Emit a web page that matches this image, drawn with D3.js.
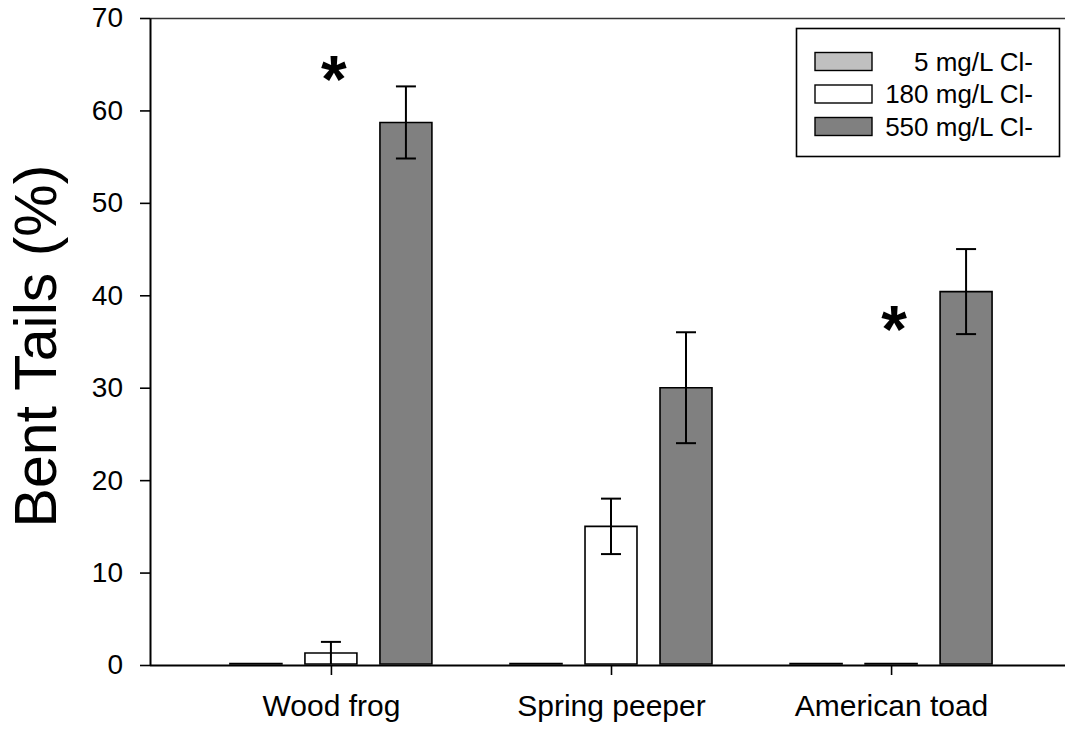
<!DOCTYPE html>
<html>
<head>
<meta charset="utf-8">
<script src="https://cdn.jsdelivr.net/npm/d3@7"></script>
<style>
  html, body { margin: 0; padding: 0; background: #fff; }
  svg { display: block; font-family: "Liberation Sans", Arial, Helvetica, sans-serif; }
</style>
</head>
<body>
<svg id="chart" width="1065" height="730"></svg>
<script>
// Species on the x axis
const species = ["Wood frog", "Spring peeper", "American toad"];
// Chloride treatments (legend order)
const treatments = ["5 mg/L Cl-", "180 mg/L Cl-", "550 mg/L Cl-"];
// Mean % bent tails per treatment, one value per species
const low = [0, 0, 0];
const mid = [1.3, 15, 0];
const high = [58.7, 30, 40.4];
// Standard errors
const lowErr = [0, 0, 0];
const midErr = [1.2, 3, 0];
const highErr = [3.9, 6, 4.6];
// Significance markers: species and height
const starSpecies = ["Wood frog", "American toad"];
const starHeight = [64.6, 37.5];
// Y-axis ticks
const yTicks = [0, 10, 20, 30, 40, 50, 60, 70];

const fills = ["#c0c0c0", "#ffffff", "#808080"];
const means = [low, mid, high];
const errs = [lowErr, midErr, highErr];

const svg = d3.select("#chart");

const plotLeft = 150, plotTop = 18, plotBottom = 665, plotRight = 1072;

const x = d3.scalePoint().domain(species).range([plotLeft, plotRight]).padding(0.646);
const xs = d3.scaleBand().domain(treatments).range([-112.5, 112.5])
  .paddingInner(0.307).paddingOuter(0.1535);
const y = d3.scaleLinear().domain([0, 70]).range([plotBottom, plotTop]);

const rows = [];
treatments.forEach((t, ti) => {
  species.forEach((s, si) => {
    rows.push({ t, ti, s, v: means[ti][si], e: errs[ti][si] });
  });
});

// Bars (drawn as paths so zero-height bars still show an outline)
svg.append("g").selectAll("path").data(rows).join("path")
  .attr("d", d => {
    const x0 = x(d.s) + xs(d.t), w = xs.bandwidth();
    const y0 = y(d.v), y1 = y(0) - 1;
    const yt = Math.min(y0, y1 - 0.5);
    const p = d3.path();
    p.moveTo(x0, y1); p.lineTo(x0, yt);
    p.lineTo(x0 + w, yt); p.lineTo(x0 + w, y1); p.closePath();
    return p.toString();
  })
  .attr("fill", d => fills[d.ti])
  .attr("stroke", "#000")
  .attr("stroke-width", 1.6);

// Error bars
const eb = svg.append("g").attr("stroke", "#000").attr("stroke-width", 2);
rows.filter(d => d.e > 0).forEach(d => {
  const cx = x(d.s) + xs(d.t) + xs.bandwidth() / 2;
  eb.append("line").attr("x1", cx).attr("x2", cx).attr("y1", y(d.v + d.e)).attr("y2", y(Math.max(0, d.v - d.e)));
  eb.append("line").attr("x1", cx - 10).attr("x2", cx + 10).attr("y1", y(d.v + d.e)).attr("y2", y(d.v + d.e));
  if (d.v - d.e > 0.3)
    eb.append("line").attr("x1", cx - 10).attr("x2", cx + 10).attr("y1", y(d.v - d.e)).attr("y2", y(d.v - d.e));
});

// Frame top line
svg.append("line").attr("x1", plotLeft).attr("x2", 1065).attr("y1", plotTop + 0.5).attr("y2", plotTop + 0.5)
  .attr("stroke", "#333").attr("stroke-width", 1.6);

// Y axis
const yAxis = svg.append("g").attr("transform", `translate(${plotLeft},0)`)
  .call(d3.axisLeft(y).tickValues(yTicks).tickSize(10).tickPadding(17).tickSizeOuter(0));
yAxis.select(".domain").attr("stroke-width", 2);
yAxis.selectAll(".tick line").attr("stroke-width", 1.6);
yAxis.selectAll("text").attr("font-size", 28).attr("fill", "#000")
  .attr("font-family", "'Liberation Sans', Arial, sans-serif");

// X axis
const xAxis = svg.append("g").attr("transform", `translate(0,${plotBottom})`)
  .call(d3.axisBottom(x).tickSize(10).tickPadding(20).tickSizeOuter(0));
xAxis.select(".domain").attr("d", `M${plotLeft},0.5H1065`).attr("stroke-width", 2);
xAxis.selectAll(".tick line").attr("stroke-width", 1.6);
xAxis.selectAll("text").attr("font-size", 30).attr("fill", "#000")
  .attr("font-family", "'Liberation Sans', Arial, sans-serif");

// Y axis title
svg.append("text")
  .attr("transform", `translate(56,346) rotate(-90)`)
  .attr("text-anchor", "middle")
  .attr("font-size", 59)
  .text("Bent Tails (%)");

// Significance asterisks
svg.append("g").selectAll("text").data(starSpecies).join("text")
  .attr("x", s => x(s) + 3)
  .attr("y", (s, i) => y(starHeight[i]) + 34)
  .attr("text-anchor", "middle")
  .attr("font-size", 66)
  .attr("font-weight", "bold")
  .text("*");

// Legend
const lg = svg.append("g");
lg.append("rect").attr("x", 796.5).attr("y", 28.5).attr("width", 263).attr("height", 128)
  .attr("fill", "#fff").attr("stroke", "#000").attr("stroke-width", 1.6);
treatments.forEach((t, i) => {
  const cy = 61.5 + i * 32.5;
  lg.append("rect").attr("x", 815).attr("y", cy - 9).attr("width", 57).attr("height", 18)
    .attr("fill", fills[i]).attr("stroke", "#000").attr("stroke-width", 1.4);
  lg.append("text").attr("x", 1033).attr("y", cy + 9).attr("text-anchor", "end")
    .attr("font-size", 26).text(t);
});
</script>
</body>
</html>
